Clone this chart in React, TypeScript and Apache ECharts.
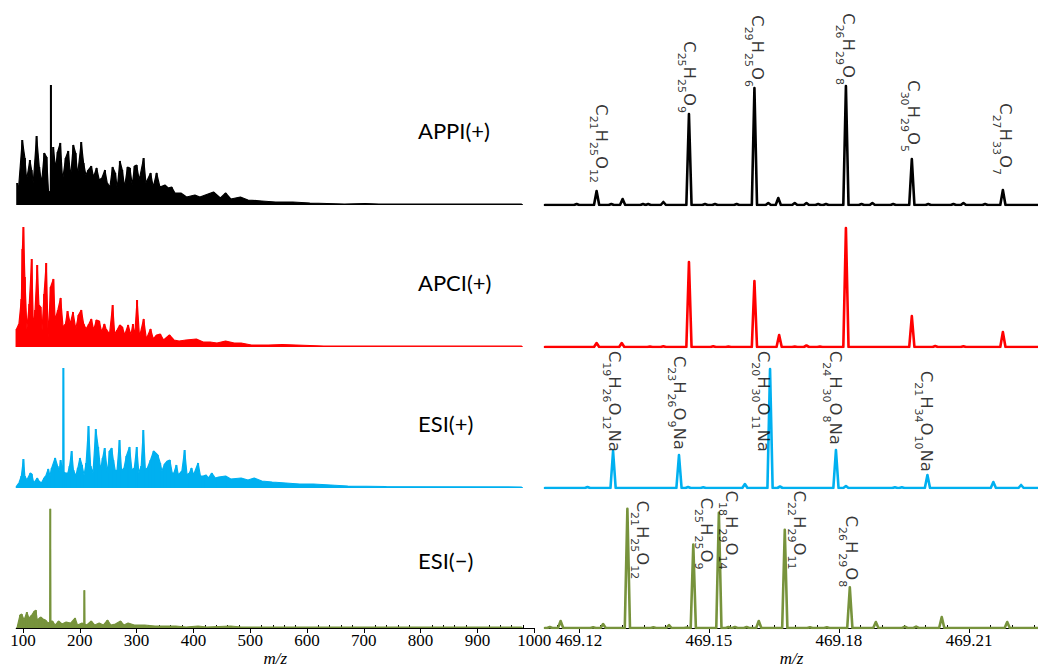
import React, { useEffect, useRef } from "react";
import * as echarts from "echarts";

const methods = ["APPI(+)", "APCI(+)", "ESI(+)", "ESI(\u2212)"];
const leftMin = 88;
const leftMax = 1000;
const rightMin = 469.1122;
const rightMax = 469.2259;
const leftTickValues = [100, 200, 300, 400, 500, 600, 700, 800, 900, 1000];
const rightTickValues = [469.12, 469.15, 469.18, 469.21];

// broadband spectra (stick tops and the fill level between them): [m/z, intensity]
const appiBroad = [[89.8,22],[91.6,13],[98.7,65],[103.3,47],[106.3,25],[112.1,45],[115.1,35],[118,22],[123.9,69],[128.6,38],[132.7,22],[137.4,52],[141.5,48],[145,12],[148.3,14],[149.1,120],[149.9,22],[153.2,58],[157.3,37],[160.9,53],[165.6,62],[169.7,25],[175,47],[179.6,54],[183.8,28],[188.5,60],[192.6,52],[196.1,30],[202.5,63],[206.6,42],[210.7,30],[214.8,35],[220.1,39],[224.2,28],[229.5,37],[234.2,25],[238.9,27],[244.2,35],[248.3,22],[253,18],[257.7,38],[262.4,32],[265.9,17],[270.6,44],[274.7,35],[278.8,18],[284.1,38],[288.2,37],[292.3,20],[296.4,39],[300,40],[304.6,25],[312.3,47],[316.4,22],[324.6,32],[329.3,18],[335.2,32],[341,18],[349.9,20],[355.7,17],[361.6,18],[367.5,12],[378,12],[388,8],[402.6,10],[411.4,8],[435.4,13],[447.5,7],[456.7,12],[465.8,6],[482.7,8],[496.1,5],[520.4,4],[544.6,3],[574.9,3],[605.2,2],[635.6,1.5],[665.9,1],[702.3,1.5],[726.6,1],[978.2,1]];
const apciBroad = [[88.6,18],[92.8,23],[97.1,48],[98.9,98],[100.7,120],[103.2,70],[106.8,18],[111,43],[115.3,88],[118.3,18],[121.3,37],[125,82],[128,42],[131,40],[133.5,17],[137.1,53],[140.8,84],[144.4,10],[148.6,60],[153.5,68],[156.5,27],[161.4,37],[166.2,49],[170.5,20],[174.7,23],[178.4,36],[183.2,23],[188,35],[192.9,18],[197.7,32],[202.6,37],[206.8,23],[211.1,18],[215.9,23],[220.2,28],[224.4,17],[229.3,27],[234.1,26],[238.4,15],[243.2,23],[246.3,18],[252.3,13],[257.8,42],[261.4,13],[265.6,17],[270.5,22],[274.7,20],[279,12],[285,22],[289.9,12],[293.5,23],[296.6,11],[300.8,47],[305.1,10],[312.4,28],[317.2,8],[324.5,18],[329.3,8],[335.4,12],[341.5,13],[347.5,7],[357.8,12],[365.7,7],[374.8,6],[386.9,7],[405.1,8],[417.2,5],[429.4,5],[441.5,4],[456.7,6],[471.8,4],[484,4],[502.1,2],[532.5,2],[556.7,2.5],[581,2],[605.2,1.5],[629.5,1],[978.2,0.8]];
const esiPosBroad = [[88.6,2],[92.8,5],[97.1,12],[100.7,29],[103.2,12],[106.8,8],[112.9,15],[115.3,14],[118.9,5],[125,10],[128,7],[132.3,5],[137.1,10],[140.1,12],[144.4,19],[147.4,12],[150.5,20],[156.5,30],[160.8,22],[163.8,17],[166.2,28],[170.3,16],[171.1,120],[171.9,16],[174.7,15],[179,15],[182,22],[185.6,37],[188.7,18],[192.9,12],[196.5,20],[200.2,30],[203.8,23],[207.5,13],[211.1,25],[215.3,62],[219,22],[223.2,15],[228.1,59],[232.3,41],[236.6,18],[240.2,30],[243.8,40],[248.7,15],[252.3,37],[256,40],[259,28],[262.6,17],[265.6,18],[269.9,48],[273.5,17],[277.8,20],[282,32],[287.5,41],[291.7,18],[296,20],[300.2,41],[303.9,15],[308.1,22],[311.8,58],[315.4,18],[319,20],[324.5,28],[330,37],[333.6,35],[337.2,33],[341.5,25],[344.5,17],[349.4,24],[354.2,27],[358.5,28],[362.7,15],[365.7,15],[370,23],[373.6,13],[379.7,17],[384.5,38],[388.8,13],[393,15],[396.6,20],[400.3,13],[408.2,25],[412.4,12],[417.3,12],[422.1,13],[426.4,10],[432.4,15],[438.5,10],[444.5,11],[456.7,12],[465.8,9],[484,10],[496.1,8],[507,10],[520.4,7],[538.6,6],[562.8,5],[587.1,4],[611.3,4],[641.6,3],[672,2],[738.7,1.5],[978.2,1]];
const esiNegBroad = [[89.8,1],[94.7,13],[97.7,14],[101.9,8],[106.8,16],[110.4,10],[115.3,13],[120.1,17],[122.6,18],[125,8],[131,11],[135.3,9],[139.5,8],[144.4,5],[147.2,6],[148,120],[148.8,7],[151.7,7],[156.5,3],[162.6,7],[168.6,4],[175.9,6],[183.8,5],[191.6,10],[195.9,3],[203.8,5],[207.3,4],[208,38],[208.7,4],[212.3,3],[220.2,7],[226.3,3],[234.1,5],[241.4,3],[248.7,8],[254.7,3],[262.6,4],[271.7,7],[277.8,3],[285,5],[296,3],[314.2,3],[332.4,2],[350.6,2],[368.8,2],[387,1],[408.2,2],[423.4,1],[465.8,2],[484,1],[978.2,1]];

// high-resolution peaks: [m/z, intensity]
const appiPeaks = [[469.1195,1],[469.1241,14],[469.1275,1],[469.1301,6],[469.1348,1],[469.136,1],[469.1395,3],[469.1454,91],[469.1491,1],[469.1514,1],[469.1564,1],[469.1605,117],[469.1637,2],[469.166,7],[469.1698,2],[469.1725,2],[469.1752,1],[469.177,1],[469.1816,119],[469.1852,1],[469.1877,2],[469.1925,1],[469.1968,46],[469.2006,1],[469.2064,1],[469.2087,2],[469.2137,1],[469.2178,15]];
const apciPeaks = [[469.1241,4],[469.1299,4],[469.1364,0.5],[469.1395,0.8],[469.1454,85],[469.151,0.8],[469.1545,0.5],[469.1605,66],[469.1662,12],[469.1698,0.5],[469.1725,1.5],[469.1756,0.5],[469.1816,119],[469.1968,31],[469.2022,1],[469.2087,0.8],[469.2178,15]];
const esiPosPeaks = [[469.122,1],[469.1279,37],[469.1431,33],[469.1452,1],[469.1487,0.8],[469.1583,4],[469.1641,119],[469.1664,1.5],[469.1793,38],[469.1816,2],[469.1929,0.8],[469.1945,0.8],[469.2004,13],[469.2156,6],[469.222,3]];
const esiNegPeaks = [[469.1133,1],[469.1158,7],[469.1233,0.8],[469.1256,4],[469.1312,120],[469.1372,0.8],[469.1408,3],[469.1449,0.5],[469.1464,84],[469.1523,116],[469.1545,1],[469.156,1],[469.1587,1],[469.1615,7],[469.1675,99],[469.1733,0.8],[469.1772,0.8],[469.1825,41],[469.1885,6],[469.1952,1.5],[469.1978,1.5],[469.2037,11],[469.2188,6]];

// formula labels: [formula, m/z of label, intensity where label ends]
const appiLabels: [string, number, number][] = [["C21H25O12",469.1253,22],["C25H25O9",469.1456,92],["C29H25O6",469.1611,118],["C26H29O8",469.1821,120],["C30H29O5",469.1971,53],["C27H33O7",469.2183,30]];
const apciLabels: [string, number, number][] = [];
const esiPosLabels: [string, number, number][] = [["C19H26O12Na",469.1283,36],["C23H26O9Na",469.1433,38],["C20H30O11Na",469.1627,36],["C24H30O8Na",469.1791,43],["C21H34O10Na",469.2003,16]];
const esiNegLabels: [string, number, number][] = [["C21H25O12",469.1348,49],["C25H25O9",469.1495,59],["C18H29O14",469.1551,59],["C22H29O11",469.171,59],["C26H29O8",469.1828,41]];

function toRich(f: string): string {
  const parts = f.match(/[A-Z][a-z]?|\d+/g) || [];
  return parts.map((p) => (/\d/.test(p) ? `{s|${p}}` : `{m|${p}}`)).join("");
}

function profile(peaks: number[][], hw: number): number[][] {
  const s = [...peaks].sort((a, b) => a[0] - b[0]);
  const out: number[][] = [[rightMin, 0]];
  for (const [c, h] of s) {
    out.push([c - hw, 0], [c, h], [c + hw, 0]);
  }
  out.push([rightMax, 0]);
  return out;
}

export default function App() {
  const ref = useRef<HTMLDivElement>(null);
  useEffect(() => {
    const chart = echarts.init(ref.current!, null, { renderer: "svg" });
    const colors = ["#000000", "#ff0000", "#00b0f0", "#77933c"];
    const baselines = [205, 347, 488, 629];
    const labelY = [130, 282, 423, 560];
    const H = 140;
    const broad = [appiBroad, apciBroad, esiPosBroad, esiNegBroad];
    const peaks = [appiPeaks, apciPeaks, esiPosPeaks, esiNegPeaks];
    const labels = [appiLabels, apciLabels, esiPosLabels, esiNegLabels];
    const leftPx = 16.2;
    const leftW = 518;
    const grids: any[] = [];
    const xAxes: any[] = [];
    const yAxes: any[] = [];
    const series: any[] = [];
    const serif = "Liberation Serif";
    const leftMinor: number[] = [];
    for (let v = 120; v < 1000; v += 20) if (v % 100 !== 0) leftMinor.push(v);
    const rightMinor: number[] = [];
    for (let k = 0; k < 23; k++) {
      const v = +(469.115 + k * 0.005).toFixed(3);
      if (v < rightMax && !rightTickValues.some((t) => Math.abs(t - v) < 1e-6)) rightMinor.push(v);
    }
    baselines.forEach((b, i) => {
      grids.push({ left: leftPx, width: leftW, top: b - H, height: H });
      grids.push({ left: 545, width: 493, top: b - H, height: H });
      const bottom = i === 3;
      xAxes.push({
        type: "value", gridIndex: 2 * i, min: leftMin, max: leftMax, show: bottom,
        axisLine: { show: true, onZero: false, lineStyle: { color: "#000", width: 1 } },
        axisTick: { show: true, customValues: leftTickValues, length: 5, lineStyle: { color: "#000" } },
        axisLabel: { show: true, customValues: leftTickValues, color: "#000", fontFamily: serif, fontSize: 17, margin: 4, formatter: (v: number) => String(v) },
        splitLine: { show: false },
        name: bottom ? "m/z" : "", nameLocation: "middle", nameGap: 22,
        nameTextStyle: { fontFamily: serif, fontStyle: "italic", fontSize: 17, color: "#000" },
      });
      xAxes.push({
        type: "value", gridIndex: 2 * i + 1, min: rightMin, max: rightMax, show: bottom,
        axisLine: { show: true, onZero: false, lineStyle: { color: "#000", width: 1 } },
        axisTick: { show: true, customValues: rightTickValues, length: 5, lineStyle: { color: "#000" } },
        axisLabel: { show: true, customValues: rightTickValues, color: "#000", fontFamily: serif, fontSize: 17, margin: 4, formatter: (v: number) => v.toFixed(2) },
        splitLine: { show: false },
        name: bottom ? "m/z" : "", nameLocation: "middle", nameGap: 22,
        nameTextStyle: { fontFamily: serif, fontStyle: "italic", fontSize: 17, color: "#000" },
      });
      yAxes.push({ type: "value", gridIndex: 2 * i, min: 0, max: H, show: false });
      yAxes.push({ type: "value", gridIndex: 2 * i + 1, min: 0, max: H, show: false });
      series.push({
        type: "line", xAxisIndex: 2 * i, yAxisIndex: 2 * i, data: broad[i], symbol: "none",
        lineStyle: { color: colors[i], width: 1.2 }, areaStyle: { color: colors[i], opacity: 1 }, z: 3, silent: true,
      });
      series.push({
        type: "bar", xAxisIndex: 2 * i, yAxisIndex: 2 * i, data: broad[i], barWidth: 2,
        itemStyle: { color: colors[i] }, z: 3, silent: true,
      });
      series.push({
        type: "line", xAxisIndex: 2 * i + 1, yAxisIndex: 2 * i + 1, data: profile(peaks[i], 0.0006), symbol: "none",
        lineStyle: { color: colors[i], width: 2.6, join: "round", cap: "round" }, z: 3, silent: true,
      });
      if (labels[i].length) {
        series.push({
          type: "scatter", xAxisIndex: 2 * i + 1, yAxisIndex: 2 * i + 1, symbolSize: 1, silent: true, z: 5,
          itemStyle: { color: "rgba(0,0,0,0)" },
          data: labels[i].map(([f, x, y]) => ({ value: [x, y], name: f })),
          label: {
            show: true, position: "inside", rotate: -90, align: "right", verticalAlign: "middle",
            formatter: (p: any) => toRich(p.name),
            rich: {
              m: { fontFamily: "DejaVu Sans", fontSize: 16.5, lineHeight: 28, color: "#000" },
              s: { fontFamily: "DejaVu Sans", fontSize: 11, lineHeight: 11, verticalAlign: "bottom", color: "#000" },
            },
          },
        });
      }
    });
    xAxes.push({
      type: "value", gridIndex: 6, min: leftMin, max: leftMax, axisLine: { show: false },
      axisTick: { show: true, customValues: leftMinor, length: 3, lineStyle: { color: "#000" } },
      axisLabel: { show: false }, splitLine: { show: false },
    });
    xAxes.push({
      type: "value", gridIndex: 7, min: rightMin, max: rightMax, axisLine: { show: false },
      axisTick: { show: true, customValues: rightMinor, length: 3, lineStyle: { color: "#000" } },
      axisLabel: { show: false }, splitLine: { show: false },
    });
    chart.setOption({
      animation: false,
      backgroundColor: "#ffffff",
      grid: grids,
      xAxis: xAxes,
      yAxis: yAxes,
      series,
      graphic: methods.map((t, i) => ({
        type: "text", x: 418, y: labelY[i], silent: true,
        style: { text: t, fontFamily: "Lato", fontSize: 22, fill: "#000", verticalAlign: "middle" },
      })),
    });
    return () => chart.dispose();
  }, []);
  return (
    <div
      ref={ref}
      style={{ position: "fixed", left: 0, top: 0, width: 1038, height: 668, background: "#fff" }}
    />
  );
}
